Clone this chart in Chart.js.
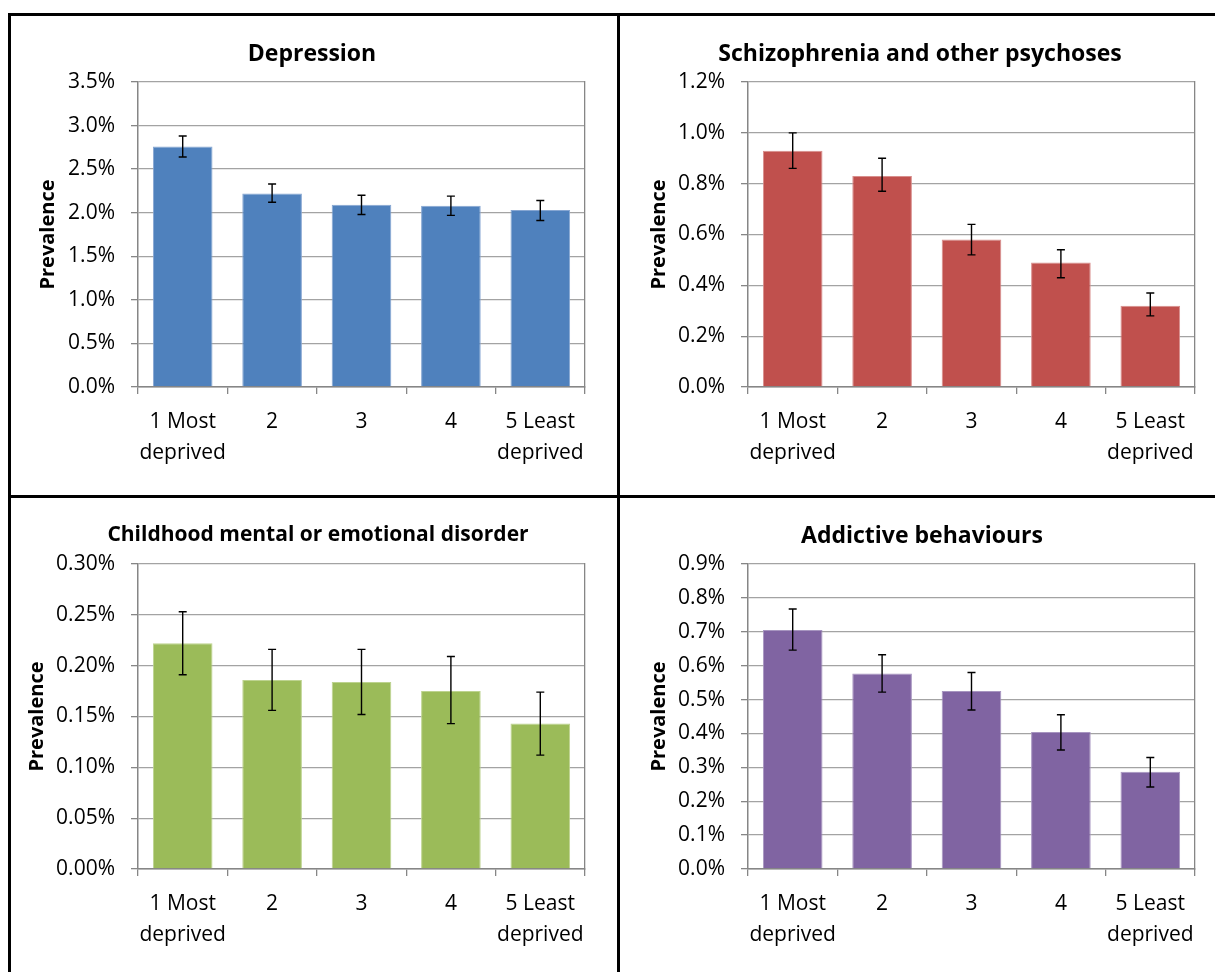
<!DOCTYPE html>
<html>
<head>
<meta charset="utf-8">
<script src="https://cdn.jsdelivr.net/npm/chart.js@4"></script>
<style>
  html, body { margin: 0; padding: 0; background: #fff; }
  body { width: 1215px; height: 972px; position: relative; overflow: hidden; }
  .rule { position: absolute; background: #000; }
  canvas { position: absolute; }
</style>
</head>
<body>
<div class="rule" style="left:8px;top:13px;width:3px;height:959px"></div>
<div class="rule" style="left:8px;top:13px;width:1207px;height:3px"></div>
<div class="rule" style="left:617px;top:13px;width:3px;height:959px"></div>
<div class="rule" style="left:8px;top:495px;width:1207px;height:3px"></div>

<canvas id="c1" width="602" height="479" style="left:11px;top:16px"></canvas>
<canvas id="c2" width="600" height="479" style="left:620px;top:16px"></canvas>
<canvas id="c3" width="614" height="474" style="left:11px;top:498px"></canvas>
<canvas id="c4" width="604" height="474" style="left:620px;top:498px"></canvas>

<script>
// Deprivation quintiles shared by all four panels
const categories = [['1 Most', 'deprived'], '2', '3', '4', ['5 Least', 'deprived']];

// Prevalence (%) with lower / upper confidence limits
const depressionValues = [2.76, 2.22, 2.09, 2.08, 2.03];
const depressionLow    = [2.64, 2.12, 1.98, 1.97, 1.91];
const depressionHigh   = [2.88, 2.33, 2.20, 2.19, 2.14];
const depressionTicks  = ['0.0%', '0.5%', '1.0%', '1.5%', '2.0%', '2.5%', '3.0%', '3.5%'];

const psychosisValues = [0.93, 0.83, 0.58, 0.49, 0.32];
const psychosisLow    = [0.86, 0.77, 0.52, 0.43, 0.28];
const psychosisHigh   = [1.00, 0.90, 0.64, 0.54, 0.37];
const psychosisTicks  = ['0.0%', '0.2%', '0.4%', '0.6%', '0.8%', '1.0%', '1.2%'];

const childhoodValues = [0.222, 0.186, 0.184, 0.175, 0.143];
const childhoodLow    = [0.191, 0.156, 0.152, 0.143, 0.112];
const childhoodHigh   = [0.253, 0.216, 0.216, 0.209, 0.174];
const childhoodTicks  = ['0.00%', '0.05%', '0.10%', '0.15%', '0.20%', '0.25%', '0.30%'];

const addictiveValues = [0.705, 0.577, 0.525, 0.404, 0.287];
const addictiveLow    = [0.646, 0.522, 0.469, 0.351, 0.242];
const addictiveHigh   = [0.767, 0.632, 0.580, 0.455, 0.329];
const addictiveTicks  = ['0.0%', '0.1%', '0.2%', '0.3%', '0.4%', '0.5%', '0.6%', '0.7%', '0.8%', '0.9%'];

Chart.defaults.font.family = "'Open Sans', sans-serif";
Chart.defaults.color = '#000';

const AXIS = '#868686';
const GRID = '#a3a3a3';

// Draws the confidence-interval whiskers on top of each bar
const errorBars = {
  id: 'errorBars',
  afterDatasetsDraw(chart, args, opts) {
    const meta = chart.getDatasetMeta(0);
    const y = chart.scales.y;
    const ctx = chart.ctx;
    ctx.save();
    ctx.strokeStyle = '#000';
    ctx.lineWidth = 1.4;
    meta.data.forEach((bar, i) => {
      const x = bar.x;
      const yHi = y.getPixelForValue(opts.high[i]);
      const yLo = y.getPixelForValue(opts.low[i]);
      const cap = 4;
      ctx.beginPath();
      ctx.moveTo(x, yHi); ctx.lineTo(x, yLo);
      ctx.moveTo(x - cap, yHi); ctx.lineTo(x + cap, yHi);
      ctx.moveTo(x - cap, yLo); ctx.lineTo(x + cap, yLo);
      ctx.stroke();
    });
    ctx.restore();
  }
};

function panel(id, cfg) {
  return new Chart(document.getElementById(id), {
    type: 'bar',
    data: {
      labels: categories,
      datasets: [{
        data: cfg.values,
        backgroundColor: cfg.color,
        borderColor: cfg.edge,
        borderWidth: 1,
        barPercentage: 0.667,
        categoryPercentage: 1
      }]
    },
    options: {
      responsive: false,
      animation: false,
      events: [],
      layout: { padding: 0 },
      plugins: {
        legend: { display: false },
        tooltip: { enabled: false },
        title: {
          display: true,
          text: cfg.title,
          color: '#000',
          font: { size: cfg.titleSize, weight: 'bold', lineHeight: 1.2 },
          padding: { top: cfg.titleTop, bottom: cfg.titleBottom }
        },
        errorBars: { low: cfg.low, high: cfg.high }
      },
      scales: {
        x: {
          type: 'category',
          grid: {
            display: true, drawOnChartArea: false, drawTicks: true,
            tickLength: 7, tickColor: AXIS, offset: true, lineWidth: 1.3
          },
          border: { display: true, color: AXIS, width: 1.5 },
          ticks: { font: { size: 21, lineHeight: 1.43 }, padding: 13.5, maxRotation: 0, autoSkip: false },
          afterFit: s => { s.height = cfg.xHeight; }
        },
        y: {
          min: 0, max: cfg.max,
          ticks: {
            stepSize: cfg.step,
            font: { size: 21 },
            padding: 16,
            callback: (v, i) => cfg.ticks[i]
          },
          grid: { color: GRID, lineWidth: 1.3, tickLength: 7, tickColor: AXIS },
          border: { display: true, color: AXIS, width: 1.5 },
          title: {
            display: true, text: 'Prevalence', color: '#000',
            font: { size: 20, weight: 'bold', lineHeight: 1.2 },
            padding: { top: cfg.yTitlePad, bottom: 0 }
          },
          afterFit: s => { s.width = cfg.yWidth; }
        },
        frame: {
          type: 'linear', position: 'right', display: true,
          grid: { display: false, drawTicks: false },
          ticks: { display: false },
          border: { display: true, color: AXIS, width: 1.3 },
          afterFit: s => { s.width = cfg.rightWidth; }
        }
      }
    },
    plugins: [errorBars]
  });
}

panel('c1', {
  title: 'Depression', titleSize: 23, titleTop: 24.6, titleBottom: 13.8,
  values: depressionValues, low: depressionLow, high: depressionHigh, ticks: depressionTicks,
  max: 3.5, step: 0.5, color: '#4F81BD', edge: '#86A6D2',
  yWidth: 127, rightWidth: 28, xHeight: 108, yTitlePad: 25.3
});

panel('c2', {
  title: 'Schizophrenia and other psychoses', titleSize: 23, titleTop: 24.6, titleBottom: 13.8,
  values: psychosisValues, low: psychosisLow, high: psychosisHigh, ticks: psychosisTicks,
  max: 1.2, step: 0.2, color: '#C0504D', edge: '#D88E8C',
  yWidth: 128, rightWidth: 25, xHeight: 108, yTitlePad: 27.3
});

panel('c3', {
  title: 'Childhood mental or emotional disorder', titleSize: 21, titleTop: 24.5, titleBottom: 16.3,
  values: childhoodValues, low: childhoodLow, high: childhoodHigh, ticks: childhoodTicks,
  max: 0.30, step: 0.05, color: '#9BBB59', edge: '#BDD38F',
  yWidth: 127, rightWidth: 40, xHeight: 103, yTitlePad: 14.3
});

panel('c4', {
  title: 'Addictive behaviours', titleSize: 23, titleTop: 24.8, titleBottom: 13.6,
  values: addictiveValues, low: addictiveLow, high: addictiveHigh, ticks: addictiveTicks,
  max: 0.9, step: 0.1, color: '#8064A2', edge: '#A795C0',
  yWidth: 128, rightWidth: 29, xHeight: 103, yTitlePad: 27.3
});
</script>
</body>
</html>
